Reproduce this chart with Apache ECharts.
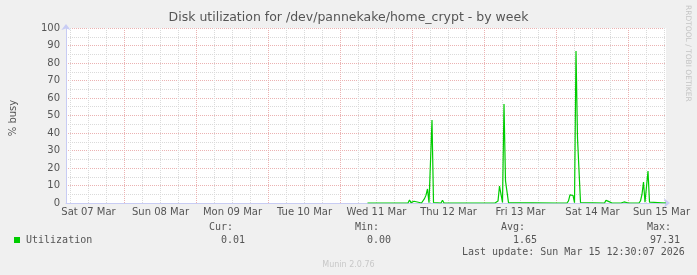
<!DOCTYPE html>
<html>
<head>
<meta charset="utf-8">
<script src="https://cdn.jsdelivr.net/npm/echarts@6/dist/echarts.min.js"></script>
<style>
html,body{margin:0;padding:0;background:#F0F0F0;}
#chart{width:697px;height:275px;}
</style>
</head>
<body>
<div id="chart"></div>
<script>
// Hours since Sat 07 Mar 00:00
const hours = [105, 118.5, 119, 119.5, 120, 120.5, 121, 123, 123.5, 124, 124.5, 125, 125.5, 126, 126.5, 127, 129.5, 130, 130.5,
  144, 144.5, 145, 147.5, 148, 148.5, 149, 149.5, 150, 150.5, 151, 151.5, 152,
  168, 168.5, 169, 171.5, 172, 172.5, 173, 173.5, 174, 174.5, 175, 175.5, 176,
  184, 184.5, 185, 185.5, 186, 186.5, 189.5, 190, 190.5, 191, 192, 192.5, 193, 195.5, 196, 196.5, 197, 197.5, 198, 198.5, 199, 199.5, 204.5];
const utilization = [0, 0, 1.7, 0.2, 0, 1.0, 0, 0, 0.5, 2.5, 4.5, 8, 0.2, 0, 47.4, 0.3, 0, 1.6, 0,
  0, 1.0, 0, 0, 1.0, 1.1, 9.7, 9.7, 0.3, 56.6, 12.6, 12, 0.2,
  0, 1.0, 0, 0, 1.2, 4.6, 4.4, 4.3, 0.2, 86.9, 37.2, 36.6, 0.3,
  0, 1.5, 0.8, 0.8, 0.7, 0, 0, 0.6, 0.6, 0, 0, 1.0, 0, 0, 1.2, 5, 12, 0.4, 0.5, 18.3, 0.5, 0, 0.01];
const dayLabels = ['Sat 07 Mar', 'Sun 08 Mar', 'Mon 09 Mar', 'Tue 10 Mar', 'Wed 11 Mar', 'Thu 12 Mar', 'Fri 13 Mar', 'Sat 14 Mar', 'Sun 15 Mar'];
const dayLabelHours = [12, 36, 60, 84, 108, 132, 156, 180, 203];
const gridHours = [];
for (let h = 6; h <= 204; h += 6) gridHours.push(h);
const xRange = [4.5, 204.5];
const yTicks = [0, 10, 20, 30, 40, 50, 60, 70, 80, 90, 100];
const titleText = 'Disk utilization for /dev/pannekake/home_crypt - by week';
const yName = '% busy';
const legendName = 'Utilization';
const stats = { cur: '0.01', min: '0.00', avg: '1.65', max: '97.31' };
const lastUpdate = 'Last update: Sun Mar 15 12:30:07 2026';
const footer = 'Munin 2.0.76';
const watermark = 'RRDTOOL / TOBI OETIKER';

const MAJOR = '#EBB2B2', MINOR = '#DADADA', AXIS = '#C8CCF4', TXT = '#555555';
const mono = 'DejaVu Sans Mono';
const sans = 'DejaVu Sans';

const chart = echarts.init(document.getElementById('chart'), null, { renderer: 'canvas' });
const data = hours.map((h, i) => [h, utilization[i]]);
const labelMap = {};
dayLabelHours.forEach((h, i) => labelMap[h] = dayLabels[i]);

function txt(x, y, s, opts) {
  return {
    type: 'text', x: x, y: y,
    style: Object.assign({ text: s, fill: TXT, font: '10px ' + mono, textVerticalAlign: 'middle' }, opts || {})
  };
}

chart.setOption({
  backgroundColor: '#F0F0F0',
  animation: false,
  grid: { left: 66, top: 28, width: 600, height: 175, show: true, backgroundColor: '#FFFFFF', borderWidth: 0 },
  xAxis: {
    type: 'value', min: xRange[0], max: xRange[1],
    axisLine: { show: true, lineStyle: { color: AXIS, width: 1 }, symbol: ['none', 'arrow'], symbolSize: [7, 6], symbolOffset: [0, 4] },
    axisTick: { show: false, customValues: gridHours },
    axisLabel: { customValues: dayLabelHours, formatter: v => labelMap[Math.round(v)] || '', color: TXT, fontFamily: sans, fontSize: 10, margin: 4, hideOverlap: false, showMinLabel: true, showMaxLabel: true },
    splitLine: { show: true, lineStyle: { color: [MINOR, MINOR, MINOR, MAJOR], type: [1, 1], width: 1 } }
  },
  yAxis: {
    type: 'value', min: 0, max: 100, interval: 5,
    axisLine: { show: true, lineStyle: { color: AXIS, width: 1 }, symbol: ['none', 'arrow'], symbolSize: [7, 6], symbolOffset: [0, 4] },
    axisTick: { show: false },
    axisLabel: { formatter: v => (yTicks.indexOf(v) >= 0 ? String(v) : ''), color: TXT, fontFamily: sans, fontSize: 10, margin: 6 },
    splitLine: { show: true, lineStyle: { color: [MAJOR, MINOR], type: [1, 1], width: 1 } }
  },
  series: [{
    type: 'line', name: legendName, data: data, showSymbol: false, symbol: 'none',
    lineStyle: { color: '#00CC00', width: 1.2 }, itemStyle: { color: '#00CC00' }, z: 5
  }],
  graphic: [
    txt(348.5, 18, titleText, { font: '12.5px ' + sans, textAlign: 'center' }),
    { type: 'text', x: 13, y: 118, rotation: Math.PI / 2, style: { text: yName, fill: TXT, font: '10px ' + sans, textAlign: 'center', textVerticalAlign: 'middle' } },
    { type: 'text', x: 688, y: 5, rotation: -Math.PI / 2, style: { text: watermark, fill: '#C4C4C4', font: '7.5px ' + sans, textAlign: 'left', textVerticalAlign: 'middle' } },
    { type: 'rect', shape: { x: 14, y: 237, width: 6, height: 6 }, style: { fill: '#00CC00' } },
    txt(26, 240, legendName),
    txt(209, 227.5, 'Cur:'),
    txt(221, 240, stats.cur),
    txt(355, 227.5, 'Min:'),
    txt(367, 240, stats.min),
    txt(501, 227.5, 'Avg:'),
    txt(513, 240, stats.avg),
    txt(647, 227.5, 'Max:'),
    txt(650, 240, stats.max),
    txt(462, 252, lastUpdate),
    txt(348.5, 265, footer, { font: '8px ' + sans, fill: '#C8C8C8', textAlign: 'center' })
  ]
});
</script>
</body>
</html>
